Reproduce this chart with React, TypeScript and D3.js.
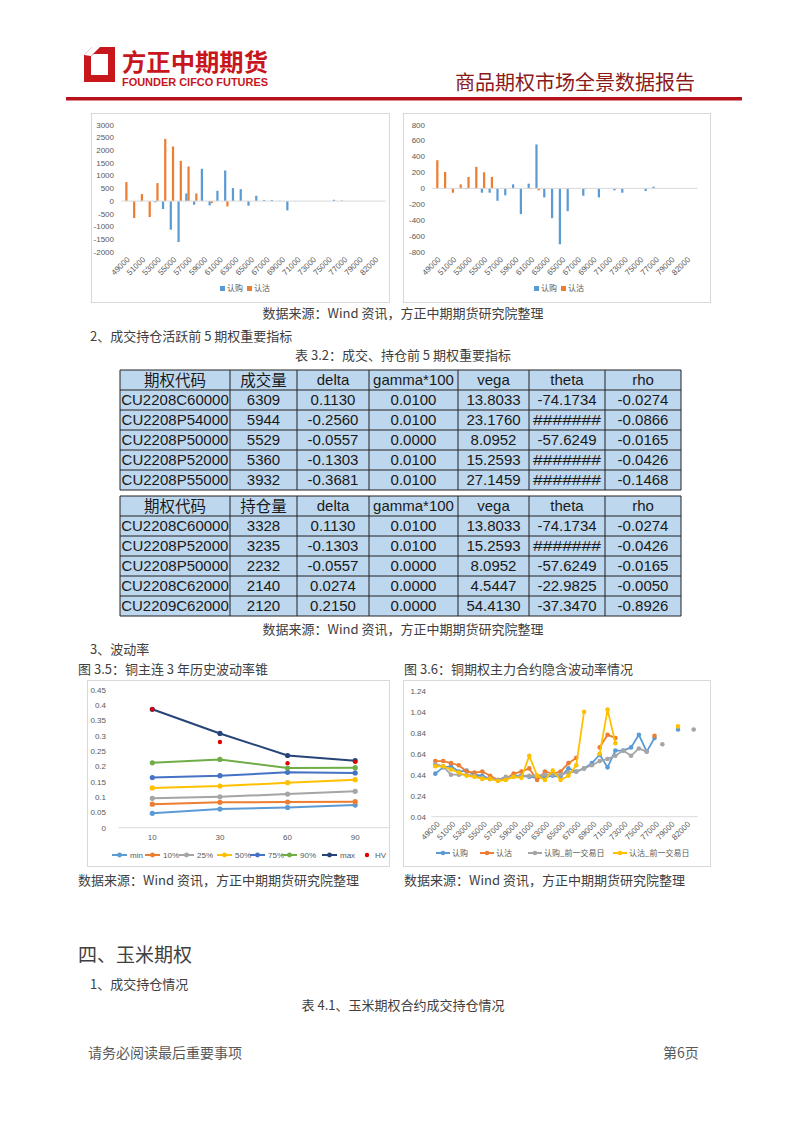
import React from "react";
import * as d3 from "d3";

// ---------- DATA ----------
const strikes = ["49000","50000","51000","52000","53000","54000","55000","56000","57000","58000","59000","60000","61000","62000","63000","64000","65000","66000","67000","68000","69000","70000","71000","72000","73000","74000","75000","76000","77000","78000","79000","80000","82000","84000"];

// Chart 1 (left top): volume change
const tlCall = [0,0,-10,0,-50,-314,-1124,-1608,300,-144,1268,-170,405,1203,510,470,-183,209,40,40,10,-366,-10,-5,-5,-5,-5,50,20,0,0,0,0,0];
const tlPut = [745,-667,275,-627,706,2444,2144,1582,1359,300,0,-80,0,-209,0,0,0,0,0,0,0,0,0,0,0,0,0,0,0,0,0,0,0,0];
const tlTicks = [-2000,-1500,-1000,-500,0,500,1000,1500,2000,2500,3000];

// Chart 2 (right top): open interest change
const trCall = [0,0,0,0,-10,-8,-55,-55,-156,-88,50,-324,59,552,-114,-375,-703,-286,0,-93,0,-114,0,-25,-55,0,0,-34,21,0,0,0,0,0];
const trPut = [354,206,-55,50,143,270,202,143,0,0,0,0,-10,-25,0,0,0,-5,0,-10,0,0,0,0,0,0,0,0,0,0,0,0,0,0];
const trTicks = [-800,-600,-400,-200,0,200,400,600,800];

// Tables
const tableHeader1 = ["期权代码","成交量","delta","gamma*100","vega","theta","rho"];
const tableRows1 = [
  ["CU2208C60000","6309","0.1130","0.0100","13.8033","-74.1734","-0.0274"],
  ["CU2208P54000","5944","-0.2560","0.0100","23.1760","#######","-0.0866"],
  ["CU2208P50000","5529","-0.0557","0.0000","8.0952","-57.6249","-0.0165"],
  ["CU2208P52000","5360","-0.1303","0.0100","15.2593","#######","-0.0426"],
  ["CU2208P55000","3932","-0.3681","0.0100","27.1459","#######","-0.1468"],
];
const tableHeader2 = ["期权代码","持仓量","delta","gamma*100","vega","theta","rho"];
const tableRows2 = [
  ["CU2208C60000","3328","0.1130","0.0100","13.8033","-74.1734","-0.0274"],
  ["CU2208P52000","3235","-0.1303","0.0100","15.2593","#######","-0.0426"],
  ["CU2208P50000","2232","-0.0557","0.0000","8.0952","-57.6249","-0.0165"],
  ["CU2208C62000","2140","0.0274","0.0000","4.5447","-22.9825","-0.0050"],
  ["CU2209C62000","2120","0.2150","0.0000","54.4130","-37.3470","-0.8926"],
];

// Volatility cone
const coneDays = ["10","30","60","90"];
const coneMin = [0.047,0.061,0.066,0.074];
const cone10 = [0.077,0.083,0.084,0.085];
const cone25 = [0.096,0.101,0.110,0.119];
const cone50 = [0.130,0.136,0.147,0.157];
const cone75 = [0.164,0.170,0.181,0.179];
const cone90 = [0.212,0.223,0.195,0.196];
const coneMax = [0.387,0.308,0.236,0.219];
const coneHV = [0.387,0.280,0.211,0.215];
const coneTicks = [0,0.05,0.1,0.15,0.2,0.25,0.3,0.35,0.4,0.45];
const coneTickLabels = ["0","0.05","0.1","0.15","0.2","0.25","0.3","0.35","0.4","0.45"];

// Implied volatility
const N = null;
const ivCall = [0.45,0.51,0.52,0.47,0.48,0.44,0.43,0.40,0.39,0.41,0.43,0.43,0.42,0.41,0.42,0.43,0.42,0.50,0.47,0.50,0.55,0.63,0.51,0.67,0.67,0.70,0.82,0.66,0.79,N,N,0.87,N,N];
const ivPut = [0.57,0.57,0.55,0.53,0.47,0.46,0.47,0.43,0.39,0.40,0.45,0.47,0.50,0.39,0.47,0.45,0.47,0.55,0.60,N,N,0.70,0.82,0.79,N,N,N,N,0.81,N,N,N,N,N];
const ivCallPrev = [0.54,0.52,0.44,0.44,0.44,0.43,0.41,0.40,0.39,0.42,0.42,0.43,0.43,0.43,0.44,0.44,0.44,0.46,0.47,0.50,0.53,0.57,0.59,0.62,0.67,0.62,0.69,0.66,N,0.73,N,N,N,0.87];
const ivPutPrev = [0.52,0.52,0.49,0.46,0.43,0.42,0.40,0.40,0.38,0.39,0.42,0.41,0.62,0.43,0.39,0.48,0.39,0.43,0.53,1.04,N,0.64,1.06,0.74,N,N,N,N,N,N,N,0.90,N,N];
const ivTicks = [0.04,0.24,0.44,0.64,0.84,1.04,1.24];

// ---------- STYLE ----------
const CJK = "'Noto Sans CJK SC', 'Noto Sans', sans-serif";
const NUM = "'Liberation Sans', Arial, 'Noto Sans CJK SC', sans-serif";
const TXT = "#404040";
const AX = "#595959";
const BLUE = "#5B9BD5";
const ORANGE = "#ED7D31";
const GRAY = "#A5A5A5";
const YELLOW = "#FFC000";
const BLUE2 = "#4472C4";
const GREEN = "#70AD47";
const NAVY = "#264478";

type BarProps = {
  frame: [number, number, number, number];
  xRange: [number, number];
  yDomain: [number, number];
  yRange: [number, number];
  ticks: number[];
  labelX: number;
  call: number[];
  put: number[];
  legendX: number;
};

function BarChart(p: BarProps) {
  const x = d3.scaleBand<string>().domain(strikes).range(p.xRange).padding(0);
  const y = d3.scaleLinear().domain(p.yDomain).range(p.yRange);
  const bw = x.bandwidth();
  const barW = bw / 3.5;
  const sub = d3.scaleBand<string>().domain(["c", "p"]).range([bw / 2 - barW, bw / 2 + barW]);
  const [fx, fy, fw, fh] = p.frame;
  const y0 = y(0);
  return (
    <g>
      <rect x={fx + 0.5} y={fy + 0.5} width={fw} height={fh} fill="#fff" stroke="#d9d9d9" />
      {p.ticks.map((t) => (
        <text key={t} x={p.labelX} y={y(t)} dy="0.35em" textAnchor="end" fontSize={8} fontFamily={NUM} fill={AX}>
          {t}
        </text>
      ))}
      {strikes.map((s, i) => {
        const v = p.call[i];
        if (!v) return null;
        return <rect key={"c" + s} x={(x(s) as number) + (sub("c") as number)} y={Math.min(y(v), y0)} width={barW} height={Math.abs(y(v) - y0)} fill={BLUE} />;
      })}
      {strikes.map((s, i) => {
        const v = p.put[i];
        if (!v) return null;
        return <rect key={"p" + s} x={(x(s) as number) + (sub("p") as number)} y={Math.min(y(v), y0)} width={barW} height={Math.abs(y(v) - y0)} fill={ORANGE} />;
      })}
      <line x1={p.xRange[0]} x2={p.xRange[1]} y1={y0} y2={y0} stroke="#d9d9d9" strokeWidth={1} />
      {strikes.map((s, i) =>
        i % 2 === 0 ? (
          <text key={"l" + s} transform={`translate(${(x(s) as number) + bw / 2 + 3},${p.yRange[0] + 6}) rotate(-45)`} textAnchor="end" dy="0.35em" fontSize={8} fontFamily={NUM} fill={AX}>
            {s}
          </text>
        ) : null
      )}
      <rect x={p.legendX} y={286} width={5} height={5} fill={BLUE} />
      <text x={p.legendX + 7} y={291} fontSize={8} fontFamily={CJK} fill={AX}>认购</text>
      <rect x={p.legendX + 27} y={286} width={5} height={5} fill={ORANGE} />
      <text x={p.legendX + 34} y={291} fontSize={8} fontFamily={CJK} fill={AX}>认沽</text>
    </g>
  );
}

function Table({ top, header, rows }: { top: number; header: string[]; rows: string[][] }) {
  const cols = [120, 230, 297, 369, 458, 529, 605, 681];
  const rowH = 20;
  const all = [header, ...rows];
  return (
    <g>
      <rect x={cols[0]} y={top} width={cols[7] - cols[0]} height={rowH * all.length} fill="#BDD7EE" />
      {all.map((r, ri) =>
        r.map((c, ci) => {
          const cjk = /[\u4e00-\u9fff]/.test(c);
          const hash = c.startsWith("#");
          return (
            <text key={ri + "-" + ci} x={(cols[ci] + cols[ci + 1]) / 2} y={top + ri * rowH + rowH / 2} dy="0.36em" textAnchor="middle" fontSize={cjk ? 15.5 : 15} fontFamily={cjk ? CJK : NUM} fill="#1a1a1a" textLength={hash ? 68 : undefined} lengthAdjust={hash ? "spacingAndGlyphs" : undefined}>
              {c}
            </text>
          );
        })
      )}
      {d3.range(all.length + 1).map((i) => (
        <line key={"h" + i} x1={cols[0]} x2={cols[7]} y1={top + i * rowH} y2={top + i * rowH} stroke="#222" strokeWidth={1} />
      ))}
      {cols.map((c, i) => (
        <line key={"v" + i} x1={c} x2={c} y1={top} y2={top + rowH * all.length} stroke="#222" strokeWidth={1} />
      ))}
    </g>
  );
}

function ConeChart() {
  const x = d3.scaleBand<string>().domain(coneDays).range([118.5, 389]);
  const y = d3.scaleLinear().domain([0, 0.45]).range([827.7, 690]);
  const cx = (d: string) => (x(d) as number) + x.bandwidth() / 2;
  const series: [number[], string, string][] = [
    [coneMin, BLUE, "min"],
    [cone10, ORANGE, "10%"],
    [cone25, GRAY, "25%"],
    [cone50, YELLOW, "50%"],
    [cone75, BLUE2, "75%"],
    [cone90, GREEN, "90%"],
    [coneMax, NAVY, "max"],
  ];
  const line = d3.line<number>().x((_, i) => cx(coneDays[i])).y((v) => y(v));
  const legendSample = [112, 145, 179, 217, 250, 282, 322];
  return (
    <g>
      <rect x={87.5} y={680.5} width={302} height={186} fill="#fff" stroke="#d9d9d9" />
      {coneTicks.map((t, i) => (
        <text key={t} x={106} y={y(t)} dy="0.35em" textAnchor="end" fontSize={8} fontFamily={NUM} fill={AX}>
          {coneTickLabels[i]}
        </text>
      ))}
      <line x1={118.5} x2={389} y1={y(0)} y2={y(0)} stroke="#d9d9d9" />
      {coneDays.map((d) => (
        <text key={d} x={cx(d)} y={840} textAnchor="middle" fontSize={8} fontFamily={NUM} fill={AX}>{d}</text>
      ))}
      {series.map(([vals, col, name]) => (
        <g key={name}>
          <path d={line(vals) as string} fill="none" stroke={col} strokeWidth={2} />
          {vals.map((v, i) => (
            <circle key={i} cx={cx(coneDays[i])} cy={y(v)} r={2.6} fill={col} />
          ))}
        </g>
      ))}
      {coneHV.map((v, i) => (
        <circle key={"hv" + i} cx={cx(coneDays[i])} cy={y(v)} r={2.2} fill="#E00000" />
      ))}
      {series.map(([, col, name], i) => (
        <g key={"lg" + name}>
          <line x1={legendSample[i]} x2={legendSample[i] + 15} y1={855} y2={855} stroke={col} strokeWidth={2} />
          <circle cx={legendSample[i] + 7.5} cy={855} r={2.4} fill={col} />
          <text x={legendSample[i] + 18} y={855} dy="0.35em" fontSize={8} fontFamily={NUM} fill={AX}>{name}</text>
        </g>
      ))}
      <circle cx={367} cy={855} r={2.2} fill="#E00000" />
      <text x={375} y={855} dy="0.35em" fontSize={8} fontFamily={NUM} fill={AX}>HV</text>
    </g>
  );
}

function IVChart() {
  const x = d3.scaleBand<string>().domain(strikes).range([431.4, 697.6]);
  const y = d3.scaleLinear().domain([0.04, 1.24]).range([816.7, 690.7]);
  const cx = (i: number) => (x(strikes[i]) as number) + x.bandwidth() / 2;
  const series: [(number | null)[], string, string, number][] = [
    [ivCall, BLUE, "认购", 436],
    [ivPut, ORANGE, "认沽", 480],
    [ivCallPrev, GRAY, "认购_前一交易日", 528],
    [ivPutPrev, YELLOW, "认沽_前一交易日", 613],
  ];
  const line = d3
    .line<number | null>()
    .defined((v) => v != null)
    .x((_, i) => cx(i))
    .y((v) => y(v as number));
  return (
    <g>
      <rect x={403.5} y={680.5} width={307} height={186} fill="#fff" stroke="#d9d9d9" />
      {ivTicks.map((t) => (
        <text key={t} x={426} y={y(t)} dy="0.35em" textAnchor="end" fontSize={8} fontFamily={NUM} fill={AX}>
          {t.toFixed(2)}
        </text>
      ))}
      <line x1={431.4} x2={697.6} y1={y(0.04)} y2={y(0.04)} stroke="#d9d9d9" />
      {strikes.map((s, i) =>
        i % 2 === 0 ? (
          <text key={"l" + s} transform={`translate(${cx(i) + 3},${y(0.04) + 6}) rotate(-45)`} textAnchor="end" dy="0.35em" fontSize={8} fontFamily={NUM} fill={AX}>
            {s}
          </text>
        ) : null
      )}
      {series.map(([vals, col, name]) => (
        <g key={name}>
          <path d={line(vals) as string} fill="none" stroke={col} strokeWidth={1.8} strokeLinejoin="round" />
          {vals.map((v, i) => (v == null ? null : <circle key={i} cx={cx(i)} cy={y(v)} r={2.3} fill={col} />))}
        </g>
      ))}
      {series.map(([, col, name, lx]) => (
        <g key={"lg" + name}>
          <line x1={lx} x2={lx + 14} y1={853} y2={853} stroke={col} strokeWidth={2} />
          <circle cx={lx + 7} cy={853} r={2.3} fill={col} />
          <text x={lx + 16} y={853} dy="0.35em" fontSize={8} fontFamily={CJK} fill={AX}>{name}</text>
        </g>
      ))}
    </g>
  );
}

function T({ x, y, s, size = 13, anchor = "start", color = TXT, weight = 400, family = CJK, len }: any) {
  return (
    <text x={x} y={y} fontSize={size} textAnchor={anchor} fill={color} fontWeight={weight} fontFamily={family} textLength={len} lengthAdjust={len ? "spacingAndGlyphs" : undefined}>
      {s}
    </text>
  );
}

export default function App() {
  return (
    <div style={{ position: "absolute", left: 0, top: 0, width: 802, height: 1133, background: "#fff" }}>
      <svg width={802} height={1133} viewBox="0 0 802 1133" style={{ display: "block" }}>
        <rect width={802} height={1133} fill="#fff" />
        {/* header */}
        <path d="M92 47 L115 47 L115 82 L84 82 L84 55 Z M91 56 L91 75 L108 75 L108 54 L94 54 Z" fill="#C8161D" fillRule="evenodd" />
        <path d="M84 55 L92 47 L100 47 L91 56 Z" fill="#fff" />
        <T x={122} y={71} s="方正中期期货" size={24} weight={700} color="#C8161D" len={146} />
        <T x={122} y={86} s="FOUNDER CIFCO FUTURES" size={11.5} weight={700} color="#C8161D" family={NUM} len={146} />
        <T x={455} y={90} s="商品期权市场全景数据报告" size={20} color="#8B1A1A" len={240} />
        <rect x={66} y={97} width={676} height={3.5} fill="#B5121B" />

        <BarChart frame={[91, 113, 298, 189]} xRange={[121.4, 385.6]} yDomain={[-2000, 3000]} yRange={[252, 124.7]} ticks={tlTicks} labelX={114} call={tlCall} put={tlPut} legendX={220} />
        <BarChart frame={[403, 113, 307, 189]} xRange={[432.3, 697.5]} yDomain={[-800, 800]} yRange={[252, 124.7]} ticks={trTicks} labelX={425} call={trCall} put={trPut} legendX={534} />

        <T x={403} y={318} s="数据来源：Wind 资讯，方正中期期货研究院整理" anchor="middle" />
        <T x={90} y={341} s="2、成交持仓活跃前 5 期权重要指标" />
        <T x={403} y={360} s="表 3.2：成交、持仓前 5 期权重要指标" anchor="middle" />

        <Table top={370} header={tableHeader1} rows={tableRows1} />
        <Table top={496} header={tableHeader2} rows={tableRows2} />

        <T x={403} y={634} s="数据来源：Wind 资讯，方正中期期货研究院整理" anchor="middle" />
        <T x={90} y={654} s="3、波动率" />
        <T x={78} y={674} s="图 3.5：铜主连 3 年历史波动率锥" />
        <T x={404} y={674} s="图 3.6：铜期权主力合约隐含波动率情况" />

        <ConeChart />
        <IVChart />

        <T x={78} y={885} s="数据来源：Wind 资讯，方正中期期货研究院整理" />
        <T x={404} y={885} s="数据来源：Wind 资讯，方正中期期货研究院整理" />

        <T x={78} y={962} s="四、玉米期权" size={19} />
        <T x={90} y={989} s="1、成交持仓情况" />
        <T x={403} y={1010} s="表 4.1、玉米期权合约成交持仓情况" anchor="middle" />

        <T x={88} y={1058} s="请务必阅读最后重要事项" size={14} color="#595959" />
        <T x={663} y={1058} s="第6页" size={14} color="#595959" />
      </svg>
    </div>
  );
}
